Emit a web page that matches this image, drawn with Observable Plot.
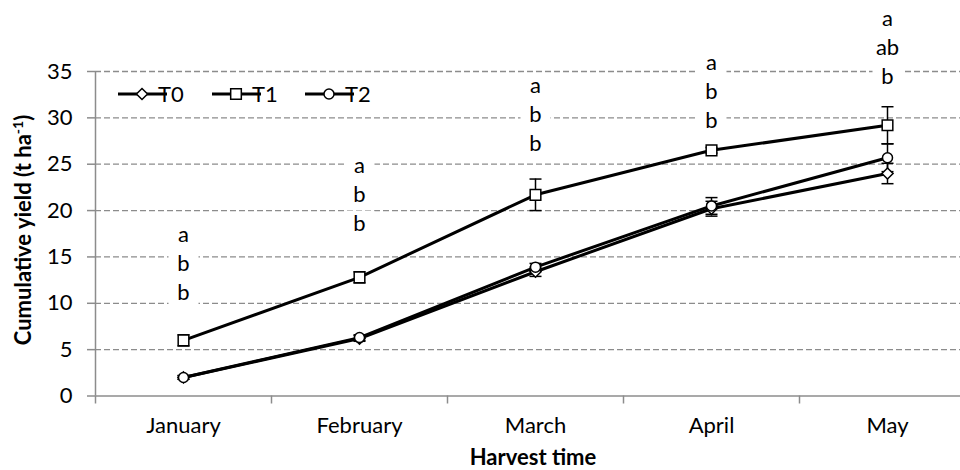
<!DOCTYPE html>
<html><head><meta charset="utf-8">
<script src="https://cdn.jsdelivr.net/npm/d3@7"></script>
<script src="https://cdn.jsdelivr.net/npm/@observablehq/plot@0.6"></script>
<style>
body{margin:0;background:#fff;}
#chart{position:relative;width:960px;height:470px;overflow:hidden;}
</style>
</head><body><div id="chart"></div>
<script>
const months = ["January","February","March","April","May"];
const seriesNames = ["T0","T1","T2"];
const t0 = [2.0, 6.2, 13.4, 20.2, 24.0];
const t0Err = [0.2, 0.3, 0.5, 0.8, 1.1];
const t1 = [6.0, 12.8, 21.7, 26.5, 29.2];
const t1Err = [0.6, 0.6, 1.7, 0.3, 2.0];
const t2 = [2.0, 6.3, 13.9, 20.5, 25.7];
const t2Err = [0.2, 0.3, 0.4, 0.9, 1.5];
const letters = [["a","b","b"],["a","b","b"],["a","b","b"],["a","b","b"],["a","ab","b"]];
const letterBase = [11.1, 18.6, 27.2, 29.7, 34.4];
const yTicks = [0,5,10,15,20,25,30,35];
const xBounds = [0,1,2,3,4,5];

const values = [t0, t1, t2];
const errs = [t0Err, t1Err, t2Err];
const rows = [];
seriesNames.forEach((s, k) => months.forEach((m, i) => {
  rows.push({series: s, x: i + 0.5, y: values[k][i], lo: values[k][i] - errs[k][i], hi: values[k][i] + errs[k][i]});
}));
const letterRows = [];
letters.forEach((arr, i) => arr.forEach((t, j) => {
  letterRows.push({x: i + 0.5, y: letterBase[i], text: t, row: arr.length - 1 - j});
}));

const gray = "#8c8c8c";
const capSymbol = {draw(ctx){ ctx.moveTo(-6,0); ctx.lineTo(6,0); }};
const boxSymbol = {draw(ctx){ ctx.rect(-15,-13,30,26); }};
const symbolFor = {T0: "diamond2", T1: "square", T2: "circle"};
const rFor = {T0: 5, T1: 6, T2: 5};
const FS = 22;

const letterBoxes = [0,1,2].map(r => Plot.dot(letterRows.filter(d => d.row === r), {
  x: "x", y: "y", dy: -29 * r, symbol: () => boxSymbol, fill: "#fff", stroke: "none", r: 5
}));
const letterMarks = [0,1,2].map(r => Plot.text(letterRows.filter(d => d.row === r), {
  x: "x", y: "y", text: "text", dy: -29 * r, fill: "#000", fontSize: FS
}));

const plot = Plot.plot({
  width: 960, height: 470,
  marginLeft: 95, marginRight: 0, marginTop: 71, marginBottom: 74.5,
  x: {type: "linear", domain: [0,5], range: [95,975]},
  y: {domain: [0,35], range: [395.5,71]},
  style: {fontFamily: "Lato", fontSize: FS + "px", color: "#000", background: "#fff", overflow: "visible"},
  marks: [
    Plot.ruleY(yTicks.slice(1), {x1: 0, x2: 5, stroke: gray, strokeWidth: 1.3, strokeDasharray: "6,3"}),
    Plot.ruleX([0], {y1: 0, y2: 35, stroke: gray, strokeWidth: 1.5}),
    Plot.ruleY([0], {x1: 0, x2: 5, stroke: gray, strokeWidth: 1.5}),
    Plot.axisY(yTicks, {tickSize: 8, tickPadding: 15, stroke: gray, strokeWidth: 1.5, fill: "#000", label: null, fontSize: FS}),
    Plot.axisX(xBounds, {tickSize: 8, tickFormat: () => "", stroke: gray, strokeWidth: 1.5, label: null}),
    Plot.axisX(months.map((m, i) => i + 0.5), {tickSize: 0, tickPadding: 21, tickFormat: d => months[Math.round(d - 0.5)], fill: "#000", label: null, fontSize: FS}),
    ...letterBoxes,
    ...letterMarks,
    Plot.line(rows, {x: "x", y: "y", z: "series", stroke: "#000", strokeWidth: 3}),
    Plot.ruleX(rows, {x: "x", y1: "lo", y2: "hi", stroke: "#000", strokeWidth: 1.5}),
    Plot.dot(rows, {x: "x", y: "lo", symbol: () => capSymbol, stroke: "#000", strokeWidth: 1.5, fill: "none", r: 5}),
    Plot.dot(rows, {x: "x", y: "hi", symbol: () => capSymbol, stroke: "#000", strokeWidth: 1.5, fill: "none", r: 5}),
    ...seriesNames.map(s => Plot.dot(rows.filter(d => d.series === s), {x: "x", y: "y", symbol: symbolFor[s], r: rFor[s], fill: "#fff", stroke: "#000", strokeWidth: 1.5}))
  ]
});

const svg = d3.select(plot);
// axis titles
svg.append("text")
  .attr("transform", "translate(31,230) rotate(-90)")
  .attr("text-anchor", "middle")
  .attr("font-family", "Lato").attr("font-weight", "bold").attr("font-size", FS)
  .call(t => {
    t.append("tspan").text("Cumulative yield (t ha");
    t.append("tspan").attr("font-size", 14).attr("dy", -8).text("-1");
    t.append("tspan").attr("dy", 8).text(")");
  });
svg.append("text")
  .attr("x", 533).attr("y", 465).attr("text-anchor", "middle")
  .attr("font-family", "Lato").attr("font-weight", "bold").attr("font-size", FS)
  .text("Harvest time");

// legend
const lg = svg.append("g").attr("font-family", "Lato").attr("font-size", FS);
const legX = [118, 212, 305];
seriesNames.forEach((s, k) => {
  const x0 = legX[k];
  lg.append("line").attr("x1", x0).attr("x2", x0 + 49).attr("y1", 94).attr("y2", 94).attr("stroke", "#000").attr("stroke-width", 3);
  const sym = {T0: d3.symbolDiamond2, T1: d3.symbolSquare, T2: d3.symbolCircle}[s];
  const r = rFor[s];
  lg.append("path").attr("transform", `translate(${x0 + 24},94)`).attr("d", d3.symbol(sym, Math.PI * r * r)())
    .attr("fill", "#fff").attr("stroke", "#000").attr("stroke-width", 1.5);
  lg.append("text").attr("x", x0 + 53).attr("y", 102).text(s);
});

document.getElementById("chart").appendChild(plot);
</script>
</body></html>
